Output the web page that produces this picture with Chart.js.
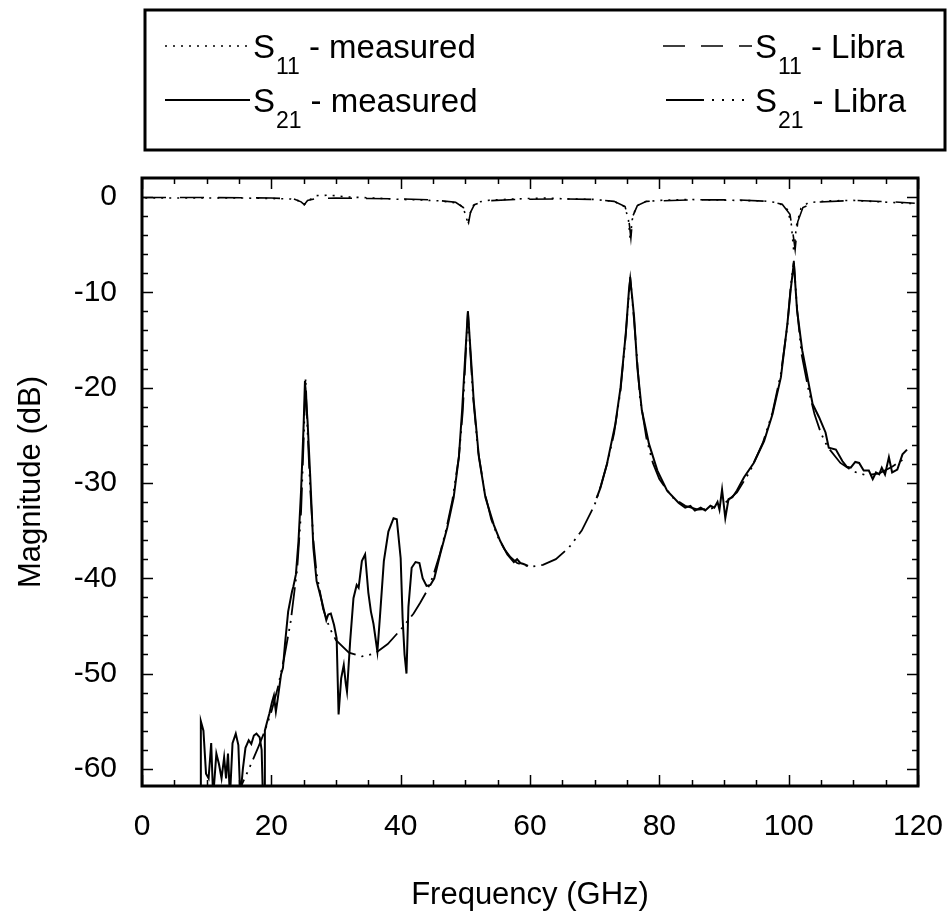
<!DOCTYPE html>
<html>
<head>
<meta charset="utf-8">
<title>S-parameters, measured and Libra</title>
<script src="https://cdn.jsdelivr.net/npm/chart.js@4.4.0/dist/chart.umd.min.js"></script>
<style>
  html, body { margin: 0; padding: 0; background: #fff; }
</style>
</head>
<body>
<canvas id="myChart" width="949" height="924"></canvas>
<script>
/* S11 / S21 magnitude, measured vs. Libra simulation.
   Values. */

var FONT = "'Liberation Sans', Arial, Helvetica, sans-serif";

// S11 measured (dotted)
var s11mFreq = [0.5, 5, 10, 15, 20, 23, 24.3, 24.8, 25.1, 25.4,
    25.9, 27, 29, 32, 36, 40, 43, 46, 48.5, 49.6,
    50.1, 50.4, 50.7, 51.2, 52.2, 54, 58, 62, 66, 70,
    73, 74.6, 75.2, 75.5, 75.8, 76.4, 77.5, 80, 84, 88,
    92, 96, 98.5, 99.8, 100.4, 100.8, 101.2, 101.9, 103, 106,
    110, 114, 117, 119.5];
var s11mDb = [-0.1, -0.1, -0.1, -0.1, -0.15, -0.2, -0.4, -0.7, -0.8, -0.6,
    -0.3, 0.15, 0.2, 0, -0.1, -0.25, -0.3, -0.4, -0.6, -1.0,
    -2.0, -2.8, -1.8, -0.9, -0.5, -0.3, -0.2, -0.1, -0.2, -0.25,
    -0.45, -1.0, -2.2, -4.5, -2.4, -1.0, -0.5, -0.35, -0.25, -0.3,
    -0.35, -0.4, -0.6, -1.3, -2.8, -5.8, -3.0, -1.2, -0.6, -0.4,
    -0.35, -0.5, -0.6, -0.7];

// S21 measured (solid), null = no data between bands
var s21mFreq = [9.0, 9.1, 9.5, 9.9, 10.3, 10.7, 11.0, 11.5, 11.9, 12.3,
    12.7, 13.0, 13.3, 13.6, 14.0, 14.5, 14.9, 15.2, 15.6, 16.0,
    16.5, 16.9, 17.3, 17.7, 18.2, 18.5, 18.7, 18.9, 19.0, 19.3,
    19.7, 20.1, 20.4, 20.7, 21.0, 21.5, 21.8, 22.1, 22.6, 23.2,
    23.4, 23.8, 24.2, 24.6, 25.0, 25.2, 25.4, 25.6, 26.0, 26.5,
    27.0, 27.8, 28.5, 28.8, 29.2, 29.7, 30.1, 30.4, 30.8, 31.2,
    31.5, 31.7, 32.2, 32.7, 33.2, 33.5, 34.0, 34.5, 35.0, 35.4,
    35.8, 36.4, 36.8, 37.4, 38.1, 38.9, 39.4, 40.0, 40.3, 40.6,
    40.9, 41.2, 41.7, 42.3, 42.9, 43.4, 44.0, 44.6, 45.2, 46.1,
    47.2, 48.2, 49.0, 49.5, 50.0, 50.4, 50.8, 51.3, 52.1, 53.1,
    54.4, 55.4, 56.5, 57.5, 58.0, 58.5, 59.0, 59.7, 65.0, 70.3,
    70.9, 71.9, 73.2, 74.0, 74.8, 75.3, 75.5, 75.8, 76.1, 76.6,
    77.3, 78.4, 79.7, 81.2, 83.0, 84.0, 84.8, 85.5, 86.4, 87.1,
    87.9, 88.5, 89.0, 89.3, 89.7, 90.2, 90.7, 91.3, 92.0, 93.1,
    94.6, 96.2, 97.5, 98.8, 99.8, 100.3, 100.8, 101.3, 102.1, 102.9,
    103.7, 104.7, 105.7, 106.2, 107.3, 108.3, 109.0, 109.6, 110.3, 110.9,
    111.6, 112.4, 113.0, 113.5, 114.0, 114.4, 114.9, 115.5, 116.0, 116.8,
    117.6, 118.3];
var s21mDb = [-63, -55.0, -56.0, -60.5, -61.0, -57.3, -63, -58.4, -59.5, -61.0,
    -58.8, -61.0, -58.4, -63, -57.3, -56.3, -57.5, -63, -60.0, -57.8,
    -57.0, -57.4, -56.5, -56.3, -56.7, -58.0, -63, -63, -56.0, -55.2,
    -54.2, -53.0, -52.3, -54.0, -52.6, -50.1, -49.4, -47.0, -43.5, -41.4,
    -40.9, -39.6, -36.1, -30.8, -23.8, -19.3, -21.5, -23.5, -29.1, -36.8,
    -40.3, -42.4, -44.4, -43.8, -43.7, -44.9, -46.3, -54.3, -50.5, -49.1,
    -51.0, -51.9, -46.5, -42.1, -40.7, -41.0, -38.2, -37.5, -41.5, -43.5,
    -44.8, -47.7, -44.0, -38.2, -35.1, -33.7, -33.8, -37.9, -44.2, -48.0,
    -50.0, -43.0, -38.9, -38.3, -38.4, -40.0, -40.8, -40.7, -40.0, -37.5,
    -34.7, -31.5, -27.3, -22.4, -16.5, -12.0, -16.1, -21.4, -27.3, -31.5,
    -34.4, -36.1, -37.5, -38.3, -38.0, -38.4, -38.5, -38.7, null, -31.6,
    -30.5, -28.0, -23.8, -20.0, -14.4, -9.8, -8.6, -10.5, -12.6, -17.9,
    -22.4, -25.9, -28.7, -30.8, -32.1, -32.6, -32.4, -32.9, -32.6, -32.9,
    -32.4, -32.6, -32.0, -32.8, -30.7, -33.7, -31.7, -31.5, -30.8, -29.4,
    -27.9, -25.6, -22.8, -18.9, -13.3, -9.8, -6.9, -11.9, -16.1, -18.9,
    -21.7, -23.1, -24.7, -26.3, -26.5, -27.7, -28.3, -28.4, -27.8, -27.9,
    -28.7, -28.7, -29.6, -28.9, -29.1, -28.4, -29.1, -27.3, -28.9, -28.6,
    -27.0, -26.5];

// S11 Libra (dashed)
var s11lFreq = [0, 10, 20, 23.5, 24.6, 25.1, 25.6, 27, 30, 35,
    40, 45, 48.5, 49.7, 50.2, 50.5, 50.8, 51.4, 53, 58,
    65, 70, 73, 74.7, 75.3, 75.6, 75.9, 76.6, 78, 85,
    92, 97, 99, 100.2, 100.7, 101.0, 101.4, 102.2, 104, 110,
    116, 119.5];
var s11lDb = [-0.05, -0.05, -0.1, -0.2, -0.5, -0.8, -0.35, -0.15, -0.1, -0.15,
    -0.2, -0.3, -0.55, -1.1, -2.2, -2.7, -1.6, -0.8, -0.4, -0.25,
    -0.2, -0.25, -0.45, -1.0, -2.5, -4.3, -2.0, -0.9, -0.45, -0.3,
    -0.3, -0.45, -0.75, -1.8, -4.0, -5.5, -2.6, -1.1, -0.55, -0.35,
    -0.5, -0.65];

// S21 Libra (dash-dot-dot)
var s21lFreq = [14, 15, 16, 17, 18, 19, 20, 21, 22, 23,
    24, 24.6, 25.0, 25.3, 25.6, 26.0, 26.5, 27, 28, 29,
    30, 32, 34, 36, 38, 40, 42, 43, 44, 45,
    46, 47, 48, 49, 49.6, 50.1, 50.4, 50.7, 51.2, 52,
    53, 54, 55, 56, 57, 58, 60, 62, 64, 66,
    68, 70, 71, 72, 73, 74, 74.8, 75.5, 76.1, 77,
    78, 79, 80, 82, 84, 86, 88, 90, 92, 94,
    96, 97.5, 98.8, 99.8, 100.3, 100.8, 101.3, 102, 103, 104,
    105, 106, 108, 110, 112, 114, 116, 118];
var s21lDb = [-63.8, -62.3, -60.8, -59.3, -57.7, -56.0, -54.0, -51.5, -48.3, -44.5,
    -39.0, -33.0, -25.5, -19.0, -24.5, -30.5, -36.0, -39.5, -43.2, -45.2,
    -46.5, -47.8, -48.2, -47.9, -46.9, -45.4, -43.7, -42.6, -41.4, -39.8,
    -37.6, -35.0, -31.8, -27.3, -22.5, -16.0, -12.0, -15.5, -21.0, -26.8,
    -31.0, -33.8, -35.6, -36.9, -37.8, -38.4, -38.8, -38.6, -38.0, -36.8,
    -35.0, -32.3, -30.2, -27.8, -24.8, -20.3, -14.5, -8.4, -13.0, -21.0,
    -25.3, -27.9, -29.6, -31.5, -32.4, -32.8, -32.7, -32.2, -31.0, -28.8,
    -25.8, -22.6, -18.5, -13.5, -9.5, -6.7, -11.8, -16.5, -20.0, -22.8,
    -24.8, -26.2, -27.9, -28.8, -29.2, -29.0, -28.3, -27.4];

// legend text, split for the subscript
var legendMain = ['S', 'S', 'S', 'S'];
var legendSub = ['11', '21', '11', '21'];
var legendRest = ['- measured', '- measured', '- Libra', '- Libra'];

var xTicks = { min: 0, max: 120, major: 20, minor: 5 };
var yTicks = { min: -60, max: 0, major: 10, minor: 2 };

function pts(fr, db) {
    return fr.map((f, i) => ({ x: f, y: db[i] }));
}

// frame round the plot with inward ticks on all four sides
const frameTicks = {
    id: 'frameTicks',
    afterDatasetsDraw(chart, args, o) {
        const { ctx, chartArea: a, scales: { x, y } } = chart;
        ctx.save();
        ctx.strokeStyle = '#000';
        ctx.lineWidth = 1.5;
        ctx.setLineDash([]);
        ctx.beginPath();
        for (let v = xTicks.min; v <= xTicks.max; v += xTicks.minor) {
            const px = Math.round(x.getPixelForValue(v)) + 0.5;
            const len = v % xTicks.major === 0 ? o.major : o.minor;
            ctx.moveTo(px, a.bottom); ctx.lineTo(px, a.bottom - len);
            ctx.moveTo(px, a.top); ctx.lineTo(px, a.top + len);
        }
        for (let v = yTicks.min; v <= yTicks.max; v += yTicks.minor) {
            const py = Math.round(y.getPixelForValue(v)) + 0.5;
            const len = v % yTicks.major === 0 ? o.major : o.minor;
            ctx.moveTo(a.left, py); ctx.lineTo(a.left + len, py);
            ctx.moveTo(a.right, py); ctx.lineTo(a.right - len, py);
        }
        ctx.stroke();
        ctx.lineWidth = o.frame;
        ctx.strokeRect(a.left, a.top, a.right - a.left, a.bottom - a.top);
        ctx.restore();
    }
};

// boxed legend above the plot, S with a lowered subscript
const legendBox = {
    id: 'legendBox',
    afterDraw(chart, args, o) {
        const ctx = chart.ctx;
        ctx.save();
        ctx.strokeStyle = '#000';
        ctx.fillStyle = '#000';
        ctx.lineWidth = o.frame;
        ctx.strokeRect(o.box[0], o.box[1], o.box[2], o.box[3]);
        ctx.textBaseline = 'alphabetic';
        ctx.textAlign = 'left';
        chart.data.datasets.forEach((ds, i) => {
            const it = o.items[i];
            ctx.lineWidth = ds.borderWidth;
            ctx.setLineDash(it.dash || ds.borderDash || []);
            ctx.beginPath();
            ctx.moveTo(it.x0, it.y);
            ctx.lineTo(it.x1, it.y);
            ctx.stroke();
            ctx.setLineDash([]);
            let tx = it.tx;
            const base = it.y + o.baseDrop;
            ctx.font = o.size + 'px ' + FONT;
            ctx.fillText(legendMain[i], tx, base);
            tx += ctx.measureText(legendMain[i]).width + 1;
            ctx.font = o.subSize + 'px ' + FONT;
            ctx.fillText(legendSub[i], tx, base + o.subDrop);
            tx += ctx.measureText(legendSub[i]).width + o.restGap;
            ctx.font = o.size + 'px ' + FONT;
            ctx.fillText(legendRest[i], tx, base);
        });
        ctx.restore();
    }
};

var datasets = [
    { label: 'S11 - measured', data: pts(s11mFreq, s11mDb), borderColor: '#000',
      borderWidth: 1.6, borderDash: [2, 6] },
    { label: 'S21 - measured', data: pts(s21mFreq, s21mDb), borderColor: '#000',
      borderWidth: 2 },
    { label: 'S11 - Libra', data: pts(s11lFreq, s11lDb), borderColor: '#000',
      borderWidth: 1.6, borderDash: [24, 14] },
    { label: 'S21 - Libra', data: pts(s21lFreq, s21lDb), borderColor: '#000',
      borderWidth: 1.8, borderDash: [28, 6, 2, 6, 2, 6] }
];

var tickFont = { family: FONT, size: 30 };
var titleFont = { family: FONT, size: 31 };

new Chart(document.getElementById('myChart'), {
    type: 'line',
    data: { datasets: datasets },
    options: {
        responsive: false,
        animation: false,
        layout: { padding: { top: 178, right: 31, left: 0, bottom: 0 } },
        elements: { point: { radius: 0 }, line: { tension: 0, fill: false } },
        plugins: {
            legend: { display: false },
            tooltip: { enabled: false },
            frameTicks: { major: 11, minor: 6, frame: 3 },
            legendBox: {
                box: [145, 10, 800, 140], frame: 3,
                items: [
                    { x0: 165, x1: 250, tx: 253, y: 46 },
                    { x0: 165, x1: 250, tx: 253, y: 100 },
                    { x0: 663, x1: 752, tx: 755, y: 46, dash: [22, 16] },
                    { x0: 666, x1: 752, tx: 755, y: 100, dash: [38, 8, 2, 8, 2, 8, 2, 8, 2, 20] }
                ],
                size: 33, subSize: 23, baseDrop: 12, subDrop: 16, restGap: 9
            }
        },
        scales: {
            x: {
                type: 'linear', min: xTicks.min, max: xTicks.max,
                grid: { display: false, drawTicks: false },
                border: { display: false },
                ticks: { stepSize: xTicks.major, padding: 23, color: '#000', font: tickFont },
                title: { display: true, text: 'Frequency (GHz)', color: '#000', font: titleFont,
                         padding: { top: 0, bottom: 10 } },
                afterFit: s => { s.height = 138; s.paddingLeft = 0; s.paddingRight = 0; }
            },
            y: {
                min: -61.8, max: 2,
                grid: { display: false, drawTicks: false },
                border: { display: false },
                ticks: { stepSize: yTicks.major, includeBounds: false, padding: 25,
                         color: '#000', font: tickFont },
                title: { display: true, text: 'Magnitude (dB)', color: '#000', font: titleFont,
                         padding: { top: 13, bottom: 0 } },
                afterFit: s => { s.width = 142; s.paddingTop = 0; s.paddingBottom = 0; }
            }
        }
    },
    plugins: [frameTicks, legendBox]
});
</script>
</body>
</html>
